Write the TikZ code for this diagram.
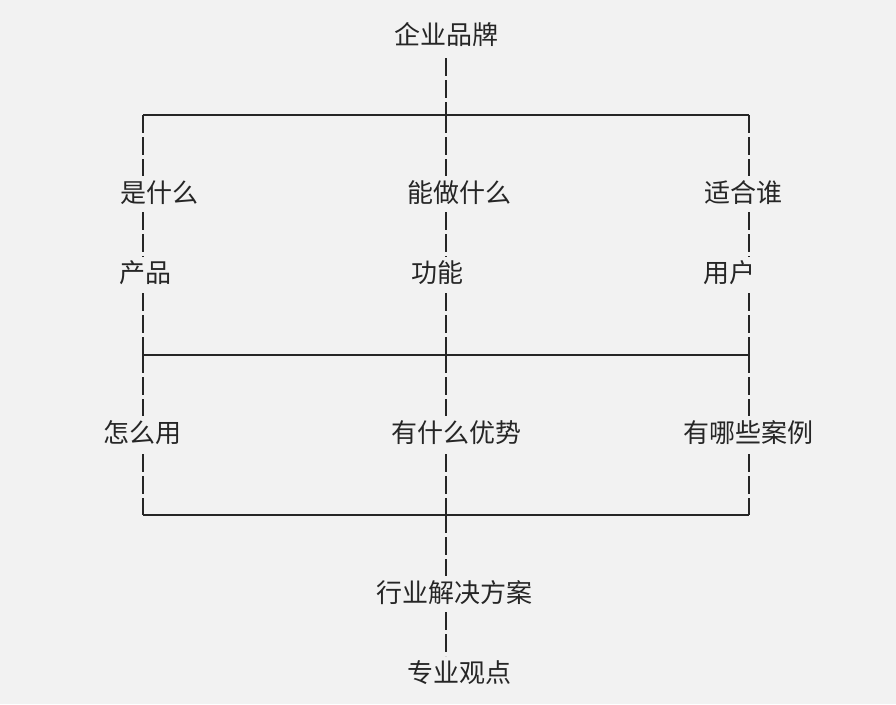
\documentclass[tikz,border=0pt]{standalone}
\usepackage{fontspec}
\newfontfamily\cjk{Noto Sans CJK SC}
\begin{document}
\begin{tikzpicture}[x=1pt,y=-1pt,
  lbl/.style={font=\cjk\fontsize{26}{30}\selectfont,inner sep=0pt,text=black!85},
  dl/.style={line width=1.6pt,dash pattern=on 18pt off 4pt,black!85},
  hl/.style={line width=1.6pt,black!85}]
\fill[black!5] (0,0) rectangle (896,704);
\useasboundingbox (0,0) rectangle (896,704);
\node[lbl] (top) at (446,35) {企业品牌};
\node[lbl] (a1) at (159,193) {是什么};
\node[lbl] (a2) at (459,193) {能做什么};
\node[lbl] (a3) at (743,193) {适合谁};
\node[lbl] (b1) at (145,273) {产品};
\node[lbl] (b2) at (437,273) {功能};
\node[lbl] (b3) at (729,273) {用户};
\node[lbl] (c1) at (142,433) {怎么用};
\node[lbl] (c2) at (456,433) {有什么优势};
\node[lbl] (c3) at (748,433) {有哪些案例};
\node[lbl] (d) at (454,593) {行业解决方案};
\node[lbl] (e) at (459,673) {专业观点};
\coordinate (h1l) at (143,115); \coordinate (h1m) at (446,115); \coordinate (h1r) at (749,115);
\coordinate (h2l) at (143,355); \coordinate (h2m) at (446,355); \coordinate (h2r) at (749,355);
\coordinate (h3l) at (143,515); \coordinate (h3m) at (446,515); \coordinate (h3r) at (749,515);
\draw[hl] (h1l) -- (h1r);
\draw[hl] (h2l) -- (h2r);
\draw[hl] (h3l) -- (h3r);
\foreach \x in {143,446,749}{
  \draw[dl] (\x,115) -- (\x,176);
  \draw[dl] (\x,212) -- (\x,257);
  \draw[dl] (\x,293) -- (\x,355);
  \draw[dl] (\x,355) -- (\x,416);
  \draw[dl] (\x,454) -- (\x,515);
}
\draw[dl] (446,58) -- (h1m);
\draw[dl] (h3m) -- (446,576);
\draw[dl] (446,612) -- (446,656);
\end{tikzpicture}
\end{document}
